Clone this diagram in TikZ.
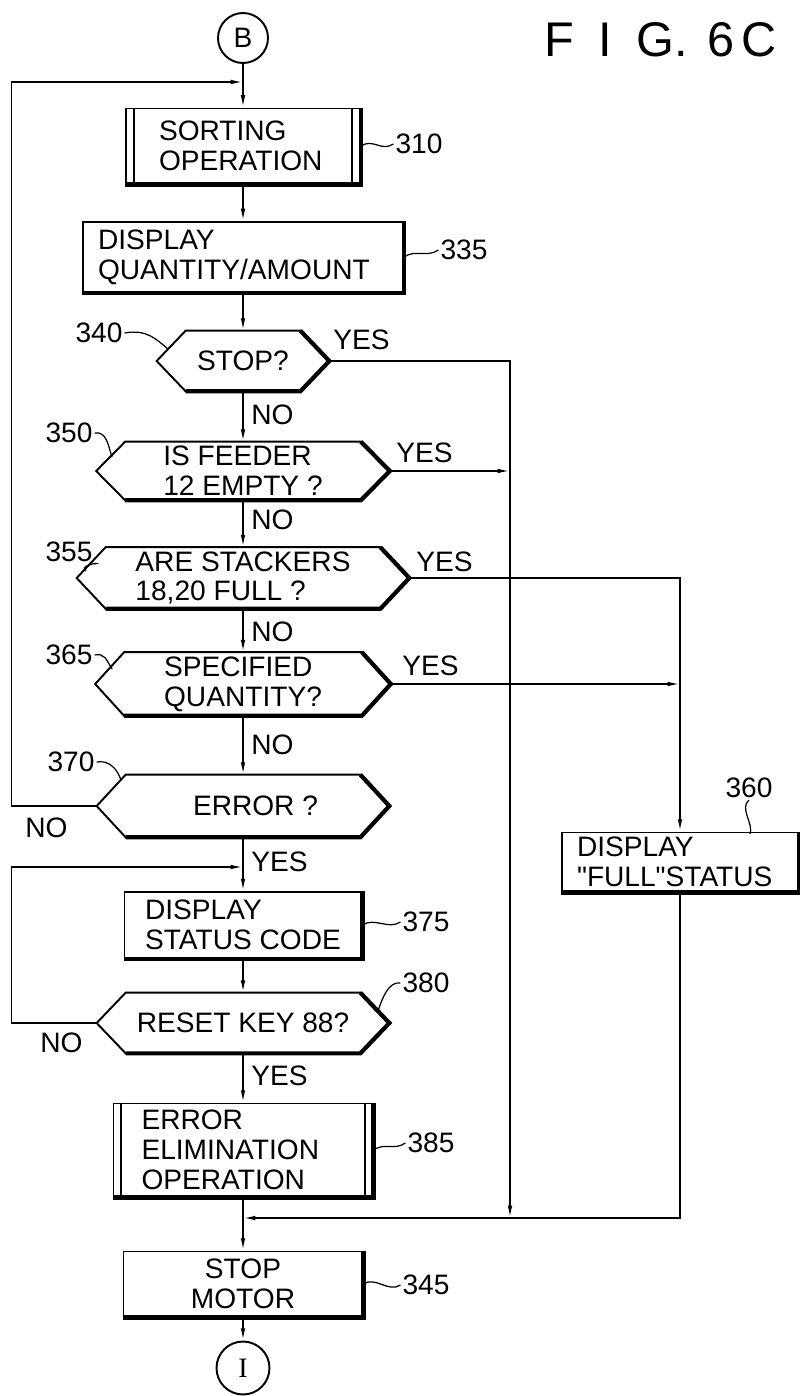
\documentclass[tikz,border=0pt]{standalone}
\usepackage{fontspec}
\setmainfont{Liberation Sans}
\newfontfamily\serifI{Liberation Serif}
\usetikzlibrary{arrows.meta}
\newcommand\lbl{\fontsize{16}{17}\selectfont}
\tikzset{
 box/.style={draw, line width=1.1pt, font=\lbl, align=left, inner ysep=2pt,
  append after command={\pgfextra{\pgfinterruptpath
   \draw[line width=2.4pt] (\tikzlastnode.north east) -- (\tikzlastnode.south east) -- (\tikzlastnode.south west);
  \endpgfinterruptpath}}},
 subbox/.style={box,
  append after command={\pgfextra{\pgfinterruptpath
   \draw[line width=1.1pt] ([xshift=0.17cm]\tikzlastnode.north west) -- ([xshift=0.17cm]\tikzlastnode.south west);
   \draw[line width=1.1pt] ([xshift=-0.17cm]\tikzlastnode.north east) -- ([xshift=-0.17cm]\tikzlastnode.south east);
  \endpgfinterruptpath}}},
 decision/.style={font=\lbl, align=left, inner sep=0pt,
  append after command={\pgfextra{\pgfinterruptpath
   \draw[line width=1.1pt] (\tikzlastnode.west) -- ([xshift=0.58cm]\tikzlastnode.north west)
     -- ([xshift=-0.58cm]\tikzlastnode.north east) -- (\tikzlastnode.east)
     -- ([xshift=-0.58cm]\tikzlastnode.south east) -- ([xshift=0.58cm]\tikzlastnode.south west) -- cycle;
   \draw[line width=2.4pt] ([xshift=-0.58cm]\tikzlastnode.north east) -- (\tikzlastnode.east)
     -- ([xshift=-0.58cm]\tikzlastnode.south east) -- ([xshift=0.58cm]\tikzlastnode.south west);
  \endpgfinterruptpath}}},
 conn/.style={draw, circle, line width=1.1pt, inner sep=0pt, font=\lbl},
 arrow/.style={-{Latex[length=7pt,width=2.6pt]}, line width=0.9pt},
 yesno/.style={font=\lbl, inner sep=0pt, anchor=west},
 refnum/.style={font=\lbl, inner sep=1pt},
 leader/.style={line width=0.7pt}
}
\begin{document}
\begin{tikzpicture}[x=0.02cm,y=-0.02cm]
\useasboundingbox (0,0) rectangle (800,1396);
% main column
\node[conn,minimum size=1cm] (b) at (243,38) {B};
\node[subbox,text width=3.36cm,inner xsep=0.66cm,minimum height=1.5cm] (sort) at (243,146) {SORTING\\OPERATION};
\node[box,text width=5.8cm,inner xsep=0.3cm,minimum height=1.4cm] (disp) at (243,257) {DISPLAY\\QUANTITY/AMOUNT};
\node[decision,minimum width=3.44cm,minimum height=1.2cm] (stop) at (243,361) {STOP?};
\node[decision,minimum width=5.86cm,minimum height=1.16cm] (feed) at (243,471) {IS FEEDER\\12 EMPTY ?};
\node[decision,minimum width=6.64cm,minimum height=1.22cm] (stack) at (243,578) {ARE STACKERS\\18,20 FULL ?};
\node[decision,minimum width=5.9cm,minimum height=1.26cm] (spec) at (243,684) {SPECIFIED\\QUANTITY?};
\node[decision,minimum width=5.84cm,minimum height=1.24cm] (err) at (243,806) {\hspace*{0.5cm}ERROR ?};
\node[box,minimum width=4.74cm,minimum height=1.32cm] (dsc) at (243,925) {DISPLAY\\STATUS CODE};
\node[decision,minimum width=5.84cm,minimum height=1.2cm] (reset) at (243,1023) {RESET KEY 88?};
\node[subbox,text width=4.06cm,inner xsep=0.56cm,minimum height=1.86cm] (elim) at (243,1150) {ERROR\\ELIMINATION\\OPERATION};
\node[box,align=center,minimum width=4.78cm,minimum height=1.3cm] (motor) at (243,1284) {STOP\\MOTOR};
\node[conn,minimum size=1.06cm,font=\lbl\serifI] (ic) at (243,1368) {I};
% right branch
\node[box,text width=4.12cm,inner xsep=0.3cm,minimum height=1.18cm] (full) at (680,862) {DISPLAY\\\textquotedbl FULL\textquotedbl STATUS};
\node[font=\fontsize{27.7}{30}\selectfont,inner sep=0pt] (title) at (661,40)
 {F\hspace{0.5em}I\hspace{0.5em}G.\hspace{0.4em}6\hspace{0.15em}C};
% junctions
\coordinate (jtop) at (243,82);
\coordinate (jmid) at (243,867);
\coordinate (jbot) at (243,1218);
\coordinate (rjoin) at (510,1218);
% flow
\draw[arrow] (b) -- (sort);
\draw[arrow] (sort) -- (disp);
\draw[arrow] (disp) -- (stop);
\draw[arrow] (stop) -- (feed);
\draw[arrow] (feed) -- (stack);
\draw[arrow] (stack) -- (spec);
\draw[arrow] (spec) -- (err);
\draw[arrow] (err) -- (dsc);
\draw[arrow] (dsc) -- (reset);
\draw[arrow] (reset) -- (elim);
\draw[arrow] (elim) -- (motor);
\draw[arrow] (motor) -- (ic);
\draw[arrow] (err.west) -- ++(-85,0) |- (jtop);
\draw[arrow] (reset.west) -- ++(-85,0) |- (jmid);
\draw[arrow] (stop.east) -| (rjoin);
\draw[arrow] (feed.east) -- (feed.east -| rjoin);
\draw[arrow] (stack.east) -| (full.north);
\draw[arrow] (spec.east) -- (spec.east -| full.north);
\draw[arrow] (full.south) |- (jbot);
% yes / no
\node[yesno] (y340) at (333,340) {YES};
\node[yesno] (n340) at (251,415) {NO};
\node[yesno] (y350) at (396,453) {YES};
\node[yesno] (n350) at (251,520) {NO};
\node[yesno] (y355) at (416,562) {YES};
\node[yesno] (n355) at (251,632) {NO};
\node[yesno] (y365) at (402,666) {YES};
\node[yesno] (n365) at (251,745) {NO};
\node[yesno] (n370) at (25,828) {NO};
\node[yesno] (y370) at (251,862) {YES};
\node[yesno] (n380) at (40,1043) {NO};
\node[yesno] (y380) at (251,1076) {YES};
% reference numerals
\node[refnum] (l310) at (419,144) {310};
\node[refnum] (l335) at (464,250) {335};
\node[refnum] (l340) at (99,333) {340};
\node[refnum] (l350) at (69,433) {350};
\node[refnum] (l355) at (69,552) {355};
\node[refnum] (l365) at (69,655) {365};
\node[refnum] (l370) at (71,762) {370};
\node[refnum] (l375) at (426,922) {375};
\node[refnum] (l380) at (426,983) {380};
\node[refnum] (l385) at (431,1143) {385};
\node[refnum] (l345) at (426,1285) {345};
\node[refnum] (l360) at (749,788) {360};
\coordinate (e340) at (168,349);
\coordinate (e350) at (112,457);
\coordinate (e355) at (86,571);
\coordinate (e365) at (112,669);
\coordinate (e370) at (121,780);
\coordinate (e380) at (378,1011);
\coordinate (e360) at (750,834);
\draw[leader] (sort.east) .. controls +(12,-8) and +(-12,8) .. (l310.west);
\draw[leader] (disp.east) .. controls +(12,-8) and +(-12,8) .. (l335.west);
\draw[leader] (dsc.east) .. controls +(12,-8) and +(-12,8) .. (l375.west);
\draw[leader] (elim.east) .. controls +(12,-8) and +(-12,8) .. (l385.west);
\draw[leader] (motor.east) .. controls +(12,-8) and +(-12,8) .. (l345.west);
\draw[leader] (l340.east) .. controls +(22,-4) and +(-12,-10) .. (e340);
\draw[leader] (l350.east) .. controls +(12,-2) and +(-4,-12) .. (e350);
\draw[leader] (l355.south east) .. controls +(8,-2) and +(-8,-6) .. (e355);
\draw[leader] (l365.east) .. controls +(10,-2) and +(-6,-10) .. (e365);
\draw[leader] (l370.east) .. controls +(12,-2) and +(-4,-12) .. (e370);
\draw[leader] (l380.west) .. controls +(-12,-2) and +(4,-12) .. (e380);
\draw[leader] (l360.south) .. controls +(-10,8) and +(4,-10) .. (e360);
\end{tikzpicture}
\end{document}
